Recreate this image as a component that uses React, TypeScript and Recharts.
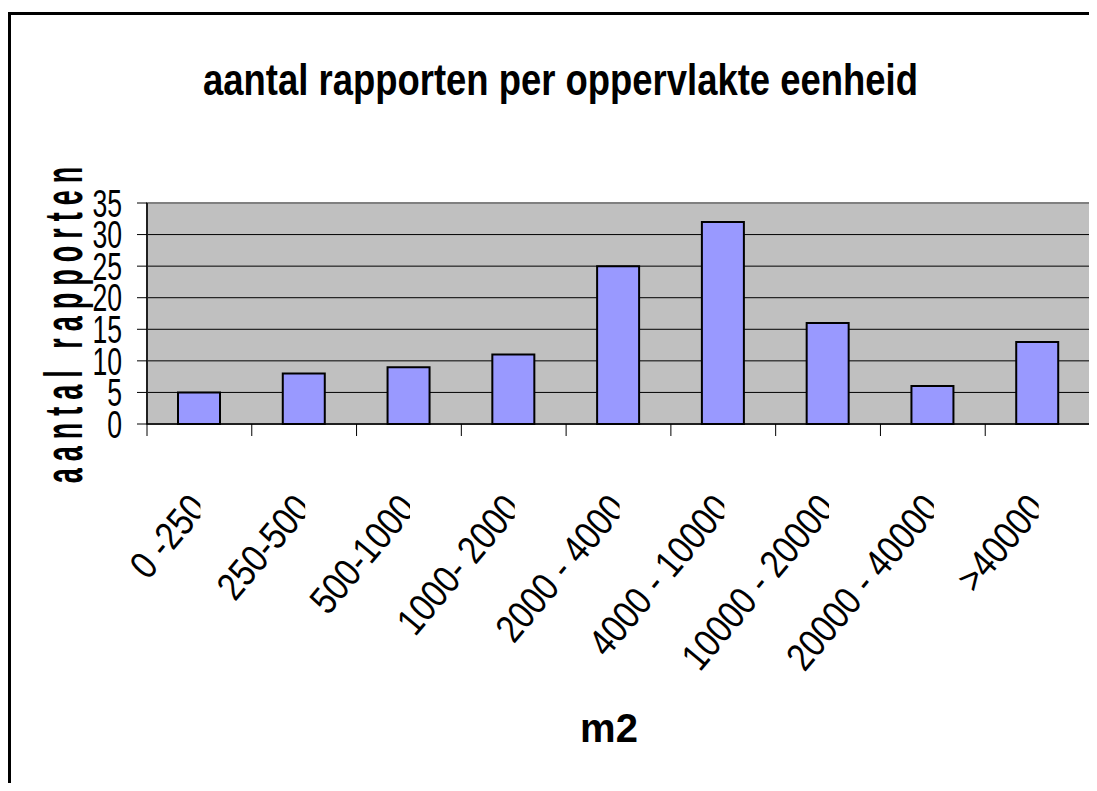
import { BarChart, Bar, XAxis, YAxis, CartesianGrid, ReferenceArea } from 'recharts';

// bins of the surface (m2) and number of reports in each
const categories = ['0 -250', '250-500', '500-1000', '1000- 2000', '2000 - 4000', '4000 - 10000', '10000 - 20000', '20000 - 40000', '>40000'];
const counts = [5, 8, 9, 11, 25, 32, 16, 6, 13];
const yTicks = [0, 5, 10, 15, 20, 25, 30, 35];

const W = 1089;
const H = 775;
const PLOT_LEFT = 139;
const PLOT_RIGHT = 1082;
const PLOT_BOTTOM = 416;
const HALF_BAND = (PLOT_RIGHT - PLOT_LEFT) / categories.length / 2;
const FONT = '"Liberation Sans", Arial, sans-serif';

const data = categories.map((c, i) => ({ bin: c, count: counts[i] }));

const YTick = ({ y, payload }: any) => (
  <text
    transform={`translate(114,${y}) scale(0.7,1)`}
    textAnchor="end"
    dy="0.36em"
    fontSize={38}
    fontFamily={FONT}
    fill="#000"
  >
    {payload.value}
  </text>
);

// Excel style: tick marks between categories, labels cut off at the category centre
const XTick = ({ x, payload, index }: any) => {
  const last = index === categories.length - 1;
  return (
    <g>
      <line x1={x - HALF_BAND} x2={x - HALF_BAND} y1={PLOT_BOTTOM} y2={PLOT_BOTTOM + 12} stroke="#000" />
      {last && <line x1={x + HALF_BAND} x2={x + HALF_BAND} y1={PLOT_BOTTOM} y2={PLOT_BOTTOM + 12} stroke="#000" />}
      <clipPath id={`xclip-${index}`}>
        <rect x={x - 300} y={PLOT_BOTTOM + 20} width={301} height={320} />
      </clipPath>
      <g clipPath={`url(#xclip-${index})`}>
        <text
          transform={`translate(${x + 9},${PLOT_BOTTOM + 85}) rotate(-50) scale(0.85,1)`}
          textAnchor="end"
          fontSize={39}
          fontFamily={FONT}
          fill="#000"
        >
          {payload.value}
        </text>
      </g>
    </g>
  );
};

export default function App() {
  return (
    <div style={{ position: 'relative', width: W, height: H, overflow: 'hidden' }}>
      <div
        style={{
          position: 'absolute',
          top: 4,
          left: 0,
          width: 1300,
          height: 1000,
          border: '3px solid #000',
          boxSizing: 'border-box',
        }}
      />
      <div style={{ position: 'absolute', top: 0, left: 0 }}>
        <BarChart width={W} height={H} data={data} margin={{ top: 195, right: 7, bottom: 329, left: 79 }}>
          <CartesianGrid vertical={false} fill="#C0C0C0" fillOpacity={1} stroke="#000" />
          <ReferenceArea y1={0} y2={35} fill="none" stroke="#808080" strokeWidth={2} />
          <XAxis
            dataKey="bin"
            height={30}
            interval={0}
            tickLine={false}
            axisLine={{ stroke: '#000', strokeWidth: 1.5 }}
            tick={<XTick />}
          />
          <YAxis
            width={60}
            domain={[0, 35]}
            ticks={yTicks}
            interval={0}
            tickSize={10}
            tickLine={{ stroke: '#000' }}
            axisLine={{ stroke: '#000', strokeWidth: 1.5 }}
            tick={<YTick />}
          />
          <Bar dataKey="count" fill="#9999FF" stroke="#000" strokeWidth={2} barSize={42} isAnimationActive={false} />
        </BarChart>
      </div>
      <svg width={W} height={H} style={{ position: 'absolute', top: 0, left: 0, pointerEvents: 'none' }}>
        <text
          x={552.5}
          y={87}
          textAnchor="middle"
          fontSize={45}
          fontWeight="bold"
          fontFamily={FONT}
          textLength={715}
          lengthAdjust="spacingAndGlyphs"
        >
          aantal rapporten per oppervlakte eenheid
        </text>
        <text
          transform="translate(74,313.5) rotate(-90) scale(0.5,1)"
          textAnchor="middle"
          fontSize={54}
          fontWeight="bold"
          fontFamily={FONT}
          letterSpacing={14}
        >
          aantal rapporten
        </text>
        <text x={601} y={734} textAnchor="middle" fontSize={40} fontWeight="bold" fontFamily={FONT}>
          m2
        </text>
      </svg>
    </div>
  );
}
